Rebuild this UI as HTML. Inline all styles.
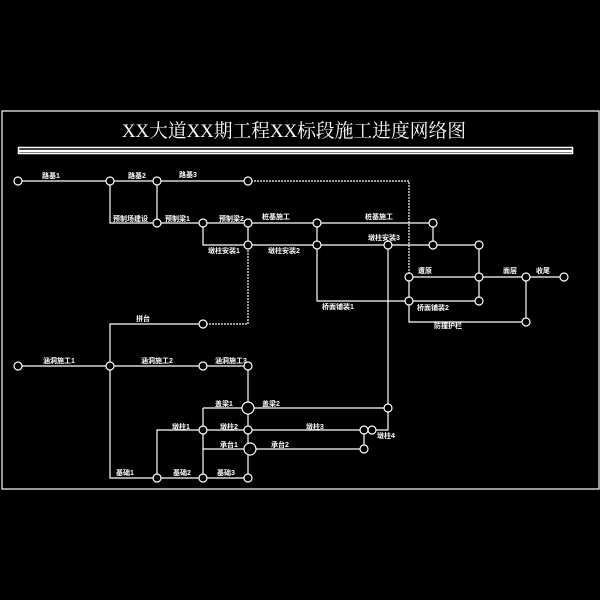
<!DOCTYPE html>
<html><head><meta charset="utf-8"><style>html,body{margin:0;padding:0;background:#000;width:600px;height:600px;overflow:hidden}</style></head>
<body>
<svg width="600" height="600" viewBox="0 0 600 600" xmlns="http://www.w3.org/2000/svg">
<rect width="600" height="600" fill="#000"/>
<rect x="2" y="111" width="597" height="378" fill="none" stroke="#fff" stroke-width="1.2"/>
<text x="294" y="137" fill="#fff" font-family="Liberation Serif, Noto Serif CJK SC, serif" font-size="19" text-anchor="middle" textLength="344" lengthAdjust="spacingAndGlyphs">XX大道XX期工程XX标段施工进度网络图</text>
<rect x="18.5" y="147.5" width="554" height="6" fill="none" stroke="#fff" stroke-width="1.5"/>
<line x1="18" y1="151" x2="572" y2="151" stroke="#fff" stroke-width="2.5"/>
<g stroke="#fff" stroke-width="1.2" fill="none">
<path d="M18 181H248"/><path d="M248 181H409V277" stroke-dasharray="2 1"/>
<path d="M110 181V223H157V181"/><path d="M157 223H203"/><path d="M203 223H248H317H433"/>
<path d="M203 223V245H248H317H388H433H479"/><path d="M248 223V245"/><path d="M317 223V245"/><path d="M433 223V245"/>
<path d="M317 245V301H409"/><path d="M409 277H479H526H564"/><path d="M409 301H479"/><path d="M479 245V301"/>
<path d="M409 277V322H526V277"/>
<path d="M388 245V408"/>
<path d="M110 366V324H203"/><path d="M203 324H248V245" stroke-dasharray="2 1"/>
<path d="M18 366H248"/><path d="M110 366V478H248"/>
<path d="M248 366V478"/><path d="M248 408H388"/>
<path d="M203 408V478"/><path d="M203 408H248"/>
<path d="M157 478V430H364"/><path d="M203 449H364"/><path d="M364 430V449"/><path d="M372 430H388V408"/>
</g>
<g fill="#000" stroke="#fff" stroke-width="1.2">
<circle cx="18" cy="181" r="4"/><circle cx="110" cy="181" r="4"/><circle cx="157" cy="181" r="4"/><circle cx="248" cy="181" r="4"/>
<circle cx="157" cy="223" r="4"/><circle cx="203" cy="223" r="4"/><circle cx="248" cy="223" r="4"/><circle cx="317" cy="223" r="4"/><circle cx="433" cy="223" r="4"/>
<circle cx="248" cy="245" r="4"/><circle cx="317" cy="245" r="4"/><circle cx="388" cy="245" r="4"/><circle cx="433" cy="245" r="4"/><circle cx="479" cy="245" r="4"/>
<circle cx="409" cy="277" r="4"/><circle cx="479" cy="277" r="4"/><circle cx="526" cy="277" r="4"/><circle cx="564" cy="277" r="4"/>
<circle cx="409" cy="301" r="4"/><circle cx="479" cy="301" r="4"/><circle cx="526" cy="322" r="4"/>
<circle cx="203" cy="324" r="4"/>
<circle cx="18" cy="366" r="4"/><circle cx="110" cy="366" r="4"/><circle cx="203" cy="366" r="4"/><circle cx="248" cy="366" r="4"/>
<circle cx="248" cy="408" r="6"/><circle cx="388" cy="408" r="4"/>
<circle cx="203" cy="430" r="4"/><circle cx="248" cy="430" r="4"/><circle cx="364" cy="430" r="4"/><circle cx="372" cy="430" r="4"/>
<circle cx="250" cy="449" r="6"/><circle cx="364" cy="449" r="4"/>
<circle cx="157" cy="478" r="4"/><circle cx="203" cy="478" r="4"/><circle cx="248" cy="478" r="4"/>
</g>
<g fill="#fff" font-family="Liberation Sans, Noto Sans CJK SC, sans-serif" font-size="7" font-weight="bold">
<text x="42" y="178">路基1</text><text x="128" y="178">路基2</text><text x="179" y="177">路基3</text>
<text x="113" y="221">预制场建设</text><text x="165" y="221">预制梁1</text><text x="219" y="221">预制梁2</text><text x="262" y="219">桩基施工</text><text x="365" y="219">桩基施工</text>
<text x="208" y="253">墩柱安装1</text><text x="268" y="253">墩柱安装2</text><text x="368" y="240">墩柱安装3</text>
<text x="418" y="273">遭原</text><text x="503" y="273">面层</text><text x="536" y="273">收尾</text>
<text x="322" y="309">桥面铺装1</text><text x="417" y="310">桥面铺装2</text><text x="434" y="328">防撞护栏</text>
<text x="136" y="321">拼台</text>
<text x="43" y="363">涵洞施工1</text><text x="141" y="363">涵洞施工2</text><text x="215" y="363">涵洞施工3</text>
<text x="215" y="406">盖梁1</text><text x="262" y="406">盖梁2</text>
<text x="172" y="429">墩柱1</text><text x="220" y="429">墩柱2</text><text x="306" y="429">墩柱3</text><text x="377" y="438">墩柱4</text>
<text x="220" y="447">承台1</text><text x="271" y="447">承台2</text>
<text x="116" y="475">基础1</text><text x="173" y="475">基础2</text><text x="217" y="475">基础3</text>
</g>
</svg>
</body></html>
